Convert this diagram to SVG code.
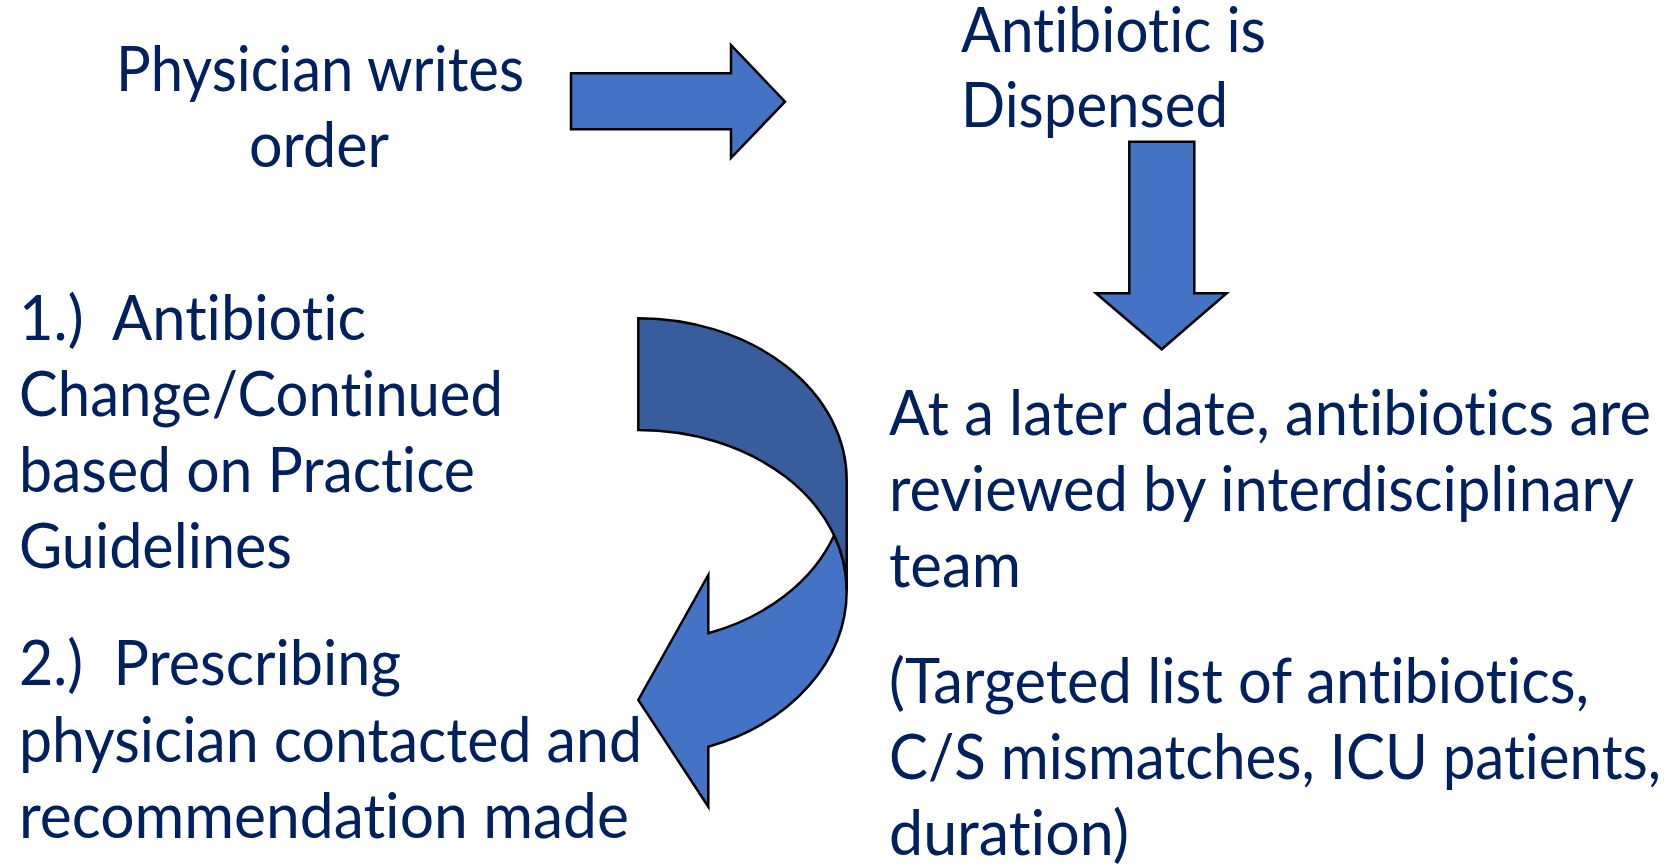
<svg xmlns="http://www.w3.org/2000/svg" width="1673" height="867" viewBox="0 0 1673 867">
<style>
.t{font-family:Lato,"Open Sans","Liberation Sans",sans-serif;font-size:62px;fill:#002060;font-variant-ligatures:none;font-feature-settings:"liga" 0,"clig" 0}
.a{fill:#4472C4;stroke:#000;stroke-width:2.5;stroke-linejoin:miter}
.d{fill:#385D9C;stroke:#000;stroke-width:2.5}
</style>
<rect width="1673" height="867" fill="#fff"/>
<g id="connectors">
<polygon class="a" points="571,73.3 731,73.3 731,45 785,101.7 731,158 731,129.3 571,129.3"/>
<polygon class="a" points="1129.3,141.7 1194.3,141.7 1194.3,293.3 1226.7,293.3 1161.7,349.3 1096,293.3 1129.3,293.3"/>
<g id="curved-arrow">
<path class="a" d="M834.2,535.3 A208.4,162 0 0 1 708.3,633.3 L708.3,575 L638.3,700 L708.3,806.7 L708.3,746.7 A208.4,166 0 0 0 846.7,590 A208.4,160 0 0 0 834.2,535.3 Z"/>
<path class="d" d="M638.3,318.3 A208.4,161.7 0 0 1 846.7,480 L846.7,590 A208.4,160 0 0 0 638.3,430 Z"/>
</g>
</g>
<g id="node-physician">
<text class="t" x="116" y="90.7" textLength="408" lengthAdjust="spacingAndGlyphs">Physician writes</text>
<text class="t" x="249" y="166.7" textLength="140" lengthAdjust="spacingAndGlyphs">order</text>
</g>
<g id="node-dispensed">
<text class="t" x="961" y="51.7" textLength="305" lengthAdjust="spacingAndGlyphs">Antibiotic is</text>
<text class="t" x="961" y="126.7" textLength="267" lengthAdjust="spacingAndGlyphs">Dispensed</text>
</g>
<g id="node-review">
<text class="t" x="889" y="435" textLength="762" lengthAdjust="spacingAndGlyphs">At a later date, antibiotics are</text>
<text class="t" x="889" y="510.7" textLength="745" lengthAdjust="spacingAndGlyphs">reviewed by interdisciplinary</text>
<text class="t" x="889" y="586.7" textLength="132" lengthAdjust="spacingAndGlyphs">team</text>
<text class="t" x="889" y="703.3" textLength="700" lengthAdjust="spacingAndGlyphs">(Targeted list of antibiotics,</text>
<text class="t" x="889" y="779.3" textLength="772" lengthAdjust="spacingAndGlyphs">C/S mismatches, ICU patients,</text>
<text class="t" x="889" y="855" textLength="240" lengthAdjust="spacingAndGlyphs">duration)</text>
</g>
<g id="node-outcome">
<text class="t" x="19" y="340" textLength="347" lengthAdjust="spacingAndGlyphs" xml:space="preserve">1.)  Antibiotic</text>
<text class="t" x="19" y="416" textLength="484" lengthAdjust="spacingAndGlyphs">Change/Continued</text>
<text class="t" x="19" y="492.3" textLength="456" lengthAdjust="spacingAndGlyphs">based on Practice</text>
<text class="t" x="19" y="568.3" textLength="273" lengthAdjust="spacingAndGlyphs">Guidelines</text>
<text class="t" x="19" y="685" textLength="382" lengthAdjust="spacingAndGlyphs" xml:space="preserve">2.)  Prescribing</text>
<text class="t" x="19" y="761.7" textLength="623" lengthAdjust="spacingAndGlyphs">physician contacted and</text>
<text class="t" x="19" y="838.3" textLength="610" lengthAdjust="spacingAndGlyphs">recommendation made</text>
</g>
</svg>
